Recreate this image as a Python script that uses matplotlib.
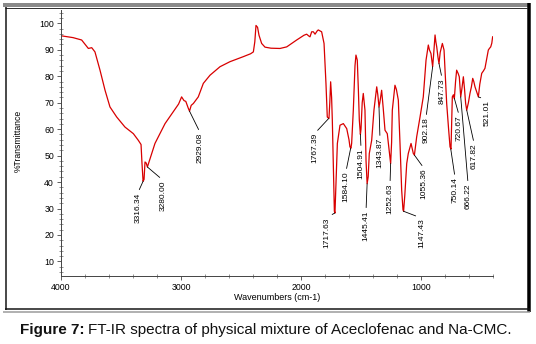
import matplotlib
matplotlib.use('Agg')
import matplotlib.pyplot as plt
from matplotlib.lines import Line2D
from matplotlib.ticker import MultipleLocator

# ---------------- data ----------------
wavenumber = [4000, 3900, 3828, 3772, 3744, 3717, 3675, 3633, 3592, 3536, 3467, 3397,
              3356, 3333, 3325, 3316, 3308, 3300, 3290, 3280, 3250, 3217, 3133, 3050,
              3020, 2995, 2975, 2960, 2940, 2929, 2915, 2897, 2856, 2814, 2758, 2675,
              2592, 2481, 2420, 2397, 2385, 2375, 2362, 2350, 2328, 2300, 2250, 2175,
              2119, 2036, 1975, 1953, 1935, 1925, 1911, 1897, 1883, 1864, 1856, 1828,
              1808, 1792, 1781, 1767, 1760, 1753, 1745, 1739, 1730, 1722, 1717, 1708,
              1697, 1675, 1647, 1619, 1600, 1592, 1584, 1578, 1564, 1550, 1542, 1531,
              1522, 1514, 1505, 1500, 1490, 1481, 1467, 1458, 1449, 1440, 1431, 1411,
              1392, 1369, 1360, 1350, 1343, 1328, 1315, 1300, 1281, 1265, 1253, 1245,
              1239, 1217, 1205, 1189, 1175, 1161, 1150, 1145, 1135, 1119, 1106, 1083,
              1064, 1055, 1036, 1008, 981, 958, 939, 930, 917, 903, 895, 883,
              876, 869, 858, 850, 840, 822, 808, 797, 786, 770, 758, 750,
              745, 739, 730, 722, 712, 703, 690, 681, 669, 660, 647, 637,
              628, 619, 605, 592, 580, 569, 560, 550, 535, 522, 510, 494,
              480, 467, 455, 439, 430, 419, 410, 403]
transmittance = [95.3, 94.6, 93.7, 90.5, 90.8, 89.2, 82.3, 74.7, 68.4, 64.6, 60.8, 58.3,
                 55.8, 54.2, 47.0, 40.3, 41.0, 47.6, 47.2, 45.7, 50.0, 54.6, 62.1, 67.5,
                 69.5, 72.2, 70.8, 70.5, 68.0, 66.8, 69.0, 69.7, 72.2, 77.3, 80.4, 83.6,
                 85.5, 87.4, 88.5, 89.2, 93.0, 99.2, 98.5, 95.5, 92.4, 91.0, 90.6, 90.5,
                 91.1, 93.7, 95.5, 95.9, 95.2, 94.9, 96.8, 96.8, 95.9, 97.2, 97.5, 96.8,
                 92.4, 77.3, 64.6, 64.0, 70.0, 77.9, 72.0, 63.4, 45.0, 29.0, 28.3, 40.0,
                 54.6, 61.5, 62.1, 60.2, 56.0, 53.3, 52.8, 54.6, 67.2, 84.0, 88.0, 86.1,
                 75.0, 63.4, 58.0, 60.0, 70.0, 73.5, 67.2, 48.0, 39.4, 42.0, 50.8, 55.8,
                 67.2, 76.0, 73.0, 68.4, 70.0, 74.7, 68.0, 59.6, 58.3, 52.0, 47.0, 55.0,
                 67.2, 76.6, 75.0, 71.0, 54.6, 36.9, 29.5, 29.0, 35.0, 47.0, 50.8, 54.6,
                 50.8, 50.2, 57.1, 64.6, 72.2, 86.1, 91.8, 90.0, 88.6, 83.6, 88.0, 95.6,
                 93.0, 91.1, 87.0, 84.8, 89.0, 92.4, 89.9, 80.0, 69.7, 60.0, 53.3, 52.5,
                 62.0, 72.2, 73.0, 71.6, 78.0, 82.3, 81.0, 79.8, 72.2, 75.0, 79.8, 75.0,
                 69.7, 67.2, 70.0, 73.5, 76.0, 79.2, 78.0, 76.0, 74.0, 72.2, 77.0, 81.1,
                 82.0, 83.0, 86.0, 89.9, 90.5, 91.1, 92.5, 94.9]

peak_labels = ["3316.34", "3280.00", "2929.08", "1767.39", "1717.63", "1584.10",
               "1504.91", "1445.41", "1343.87", "1252.63", "1147.43", "1055.36",
               "902.18", "847.73", "750.14", "720.67", "666.22", "617.82", "521.01"]
peak_wn = [3316, 3280, 2929, 1770, 1718, 1586, 1505, 1449, 1350, 1253, 1147, 1055,
           903, 850, 752, 722, 669, 619, 522]
peak_t = [40.3, 45.7, 66.8, 64.0, 28.3, 52.8, 58.0, 39.4, 68.4, 47.0, 29.0, 50.2,
          83.6, 84.8, 52.5, 71.6, 72.2, 67.2, 72.2]

x_ticks = [4000, 3000, 2000, 1000]
y_ticks = [10, 20, 30, 40, 50, 60, 70, 80, 90, 100]

# label text anchor (top centre of rotated text), layout only
label_x = [3358, 3150, 2842, 1883, 1783, 1625, 1500, 1458, 1342, 1258, 992, 975,
           958, 825, 717, 683, 608, 558, 450]
label_y = [36.1, 40.7, 58.8, 58.5, 26.7, 44.1, 52.8, 29.3, 56.6, 39.5, 26.3, 45.2,
           64.5, 79.3, 41.9, 65.3, 39.5, 54.7, 71.0]

# ---------------- figure ----------------
plt.rcParams['font.family'] = ['Liberation Sans', 'DejaVu Sans']
W, H = 536, 344
fig = plt.figure(figsize=(W / 100, H / 100), dpi=100)
ax = fig.add_axes([61 / W, 1 - 276 / H, 432 / W, 265.9 / H])

ax.plot(wavenumber, transmittance, color='#d80000', lw=0.9)
ax.set_xlim(4000, 400)
ax.set_ylim(4.5, 105)

for s in ('top', 'right'):
    ax.spines[s].set_visible(False)
ax.spines['left'].set_color('#444444')
ax.spines['bottom'].set_color('#444444')
ax.spines['left'].set_linewidth(0.7)
ax.spines['bottom'].set_linewidth(0.7)

ax.set_xticks(x_ticks)
ax.set_xticklabels([str(t) for t in x_ticks])
ax.xaxis.set_minor_locator(MultipleLocator(200))
ax.set_yticks(y_ticks)
ax.set_yticklabels([str(t) for t in y_ticks])
ax.yaxis.set_minor_locator(MultipleLocator(2))
ax.tick_params(axis='both', which='major', direction='out', length=3, width=0.6,
               labelsize=6.3, pad=2, color='#444444')
ax.tick_params(axis='both', which='minor', direction='inout', length=2.5, width=0.5,
               color='#666666')

for lab, pw, pt, lx, ly in zip(peak_labels, peak_wn, peak_t, label_x, label_y):
    ax.annotate(lab, xy=(pw, pt), xytext=(lx, ly), rotation=90, ha='center', va='top',
                fontsize=6, color='black',
                arrowprops=dict(arrowstyle='-', color='black', lw=0.6,
                                shrinkA=0, shrinkB=0, relpos=(0.5, 1.0)))

fig.text(18 / W, 1 - 141 / H, '%Transmittance', rotation=90, ha='center', va='center',
         fontsize=6.2)
fig.text(277 / W, 1 - 297 / H, 'Wavenumbers (cm-1)', ha='center', va='center',
         fontsize=6.5)

# window-like frame
def hline(y, x0, x1, lw, color):
    fig.add_artist(Line2D([x0 / W, x1 / W], [1 - y / H, 1 - y / H], lw=lw * 0.72,
                          color=color, transform=fig.transFigure, solid_capstyle='butt'))

def vline(x, y0, y1, lw, color):
    fig.add_artist(Line2D([x / W, x / W], [1 - y0 / H, 1 - y1 / H], lw=lw * 0.72,
                          color=color, transform=fig.transFigure, solid_capstyle='butt'))

hline(5, 3, 528, 4, '#8a8a8a')
hline(7.5, 5, 527, 1, '#333333')
vline(5.8, 7, 310, 1.5, '#111111')
vline(528.5, 3, 312, 3.5, '#000000')
hline(309, 5, 530, 1.5, '#111111')
hline(311.5, 3, 530, 1.5, '#999999')

# caption
r = fig.canvas.get_renderer()
t1 = fig.text(20 / W, 1 - 330 / H, 'Figure 7:', fontsize=11, fontweight='bold',
              ha='left', va='center', color='#111111')
bb = t1.get_window_extent(renderer=r)
fig.text(bb.x1 / W + 4 / W, 1 - 330 / H,
         'FT-IR spectra of physical mixture of Aceclofenac and Na-CMC.',
         fontsize=11, ha='left', va='center', color='#111111')

fig.savefig('out.png', dpi=100)
